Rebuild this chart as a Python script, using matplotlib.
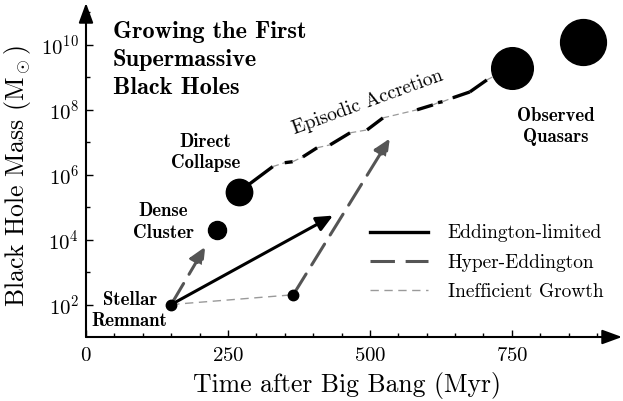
import numpy as np
import matplotlib
matplotlib.use("Agg")
import matplotlib.pyplot as plt
from matplotlib.lines import Line2D

plt.rcParams['font.family'] = ['cmr10']
plt.rcParams['mathtext.fontset'] = 'cm'
plt.rcParams['axes.formatter.use_mathtext'] = True

# seed points (time in Myr, mass in Msun)
seed_names = ['Stellar\nRemnant', 'Dense\nCluster', 'Direct\nCollapse']
seed_time = [150, 230, 270]
seed_mass = [1e2, 2e4, 3e5]

# observed quasars
quasar_time = [750, 875]
quasar_mass = [2e9, 1.2e10]

# intermediate seed after inefficient growth
stall_time = 365
stall_mass = 2e2

# growth tracks
edd_track = ([150, 435], [1e2, 5.5e4])
hyper_track_1 = ([150, 210], [1e2, 6e3])
hyper_track_2 = ([365, 535], [2e2, 1.3e7])
ineff_track = ([150, 365], [1e2, 2e2])

# episodic accretion path (log10 mass), active = thick accretion phase
episodic_time = [270, 329, 350, 364, 382, 407, 430, 465, 495, 523, 583,
                 611, 620, 628, 646, 676, 706, 750]
episodic_logm = [5.48, 6.25, 6.37, 6.40, 6.55, 6.83, 6.92, 7.29, 7.38, 7.75,
                 8.00, 8.15, 8.22, 8.25, 8.37, 8.55, 8.92, 9.32]
episodic_active = [1, 0, 1, 0, 1, 0, 1, 0, 1, 0, 1, 0, 1, 0, 1, 1, 0]

y_major = [1e2, 1e4, 1e6, 1e8, 1e10]
x_major = [0, 250, 500, 750]

BLACK = '#000000'
DARK = '#555555'
LIGHT = '#9a9a9a'

fig = plt.figure(figsize=(6.23, 4.01), dpi=100)
ax = fig.add_axes([86/623, 64/401, 536/623, 334/401])
ax.set_yscale('log')
ax.set_xlim(0, 944)
ax.set_ylim(10, 10**11.29)

for s in ax.spines.values():
    s.set_visible(False)
arrow_kw = dict(arrowstyle='-|>,head_length=0.6,head_width=0.22', lw=1.5,
                color='k', mutation_scale=20, shrinkA=0, shrinkB=0)
ax.annotate('', xy=(1, 0), xytext=(0, 0), xycoords='axes fraction',
            arrowprops=arrow_kw, annotation_clip=False)
ax.annotate('', xy=(0, 1), xytext=(0, 0), xycoords='axes fraction',
            arrowprops=arrow_kw, annotation_clip=False)

ax.set_xticks(x_major)
ax.set_xticks(np.arange(50, 901, 50), minor=True)
ax.set_yticks(y_major)
ax.set_yticks([1e3, 1e5, 1e7, 1e9, 1e11], minor=True)
ax.yaxis.set_minor_formatter(plt.NullFormatter())
ax.tick_params(which='both', direction='in', width=1.0, labelsize=15)
ax.tick_params(which='major', length=5)
ax.tick_params(which='minor', length=3)
ax.tick_params(axis='x', pad=7)
ax.tick_params(axis='y', pad=5)

ax.set_xlabel('Time after Big Bang (Myr)', fontsize=18.5)
ax.set_ylabel(r'Black Hole Mass (M$_\odot$)', fontsize=18.5)
ax.xaxis.set_label_coords(0.487, -0.105)
ax.yaxis.set_label_coords(-0.098, 0.482)

# inefficient growth
ax.plot(*ineff_track, color=LIGHT, lw=1.0, dashes=(6, 4))

# episodic accretion path
em = 10 ** np.array(episodic_logm)
for i, act in enumerate(episodic_active):
    seg_t = episodic_time[i:i + 2]
    seg_m = em[i:i + 2]
    if act:
        ax.plot(seg_t, seg_m, color=BLACK, lw=2.4, solid_capstyle='butt')
    else:
        ax.plot(seg_t, seg_m, color=LIGHT, lw=0.9, dashes=(5, 3))

# arrows
def track_arrow(track, color, dashed):
    (t0, t1), (m0, m1) = track
    props = dict(arrowstyle='-|>,head_length=0.55,head_width=0.25', lw=2.2,
                 color=color, mutation_scale=18, shrinkA=0, shrinkB=0)
    if dashed:
        props['linestyle'] = (0, (8, 3.5))
    ax.annotate('', xy=(t1, m1), xytext=(t0, m0), arrowprops=props)

track_arrow(edd_track, BLACK, False)
track_arrow(hyper_track_1, DARK, True)
track_arrow(hyper_track_2, DARK, True)

# points
sizes = [7.5, 13, 19]
for t, m, ms in zip(seed_time, seed_mass, sizes):
    ax.plot(t, m, 'o', color='k', ms=ms, zorder=5)
ax.plot(stall_time, stall_mass, 'o', color='k', ms=7.5, zorder=5)
for t, m, ms in zip(quasar_time, quasar_mass, [30, 33]):
    ax.plot(t, m, 'o', color='k', ms=ms, zorder=5)

# labels
lab_kw = dict(family='cmb10', fontsize=13.5, ha='center', va='center',
              linespacing=1.25)
ax.text(77, 10**1.82, seed_names[0], **lab_kw)
ax.text(136, 10**4.55, seed_names[1], **lab_kw)
ax.text(211, 10**6.68, seed_names[2], **lab_kw)
ax.text(827, 10**7.48, 'Observed\nQuasars', **lab_kw)

ax.text(496, 10**8.22, 'Episodic Accretion', fontsize=14, rotation=20,
        ha='center', va='center', rotation_mode='anchor')

ax.text(0.05, 0.945, 'Growing the First\nSupermassive\nBlack Holes',
        transform=ax.transAxes, family='cmb10', fontsize=17.5, ha='left',
        va='top', linespacing=1.33)

handles = [Line2D([], [], color=BLACK, lw=2.4),
           Line2D([], [], color=DARK, lw=2.2, dashes=(8, 3.5)),
           Line2D([], [], color=LIGHT, lw=1.0, dashes=(6, 4))]
ax.legend(handles, ['Eddington-limited', 'Hyper-Eddington', 'Inefficient Growth'],
          loc='upper left', bbox_to_anchor=(0.53, 0.337), frameon=False,
          fontsize=14, handlelength=3.0, handletextpad=1.0, labelspacing=0.57,
          borderpad=0, borderaxespad=0)

fig.savefig('out.png', dpi=100)
